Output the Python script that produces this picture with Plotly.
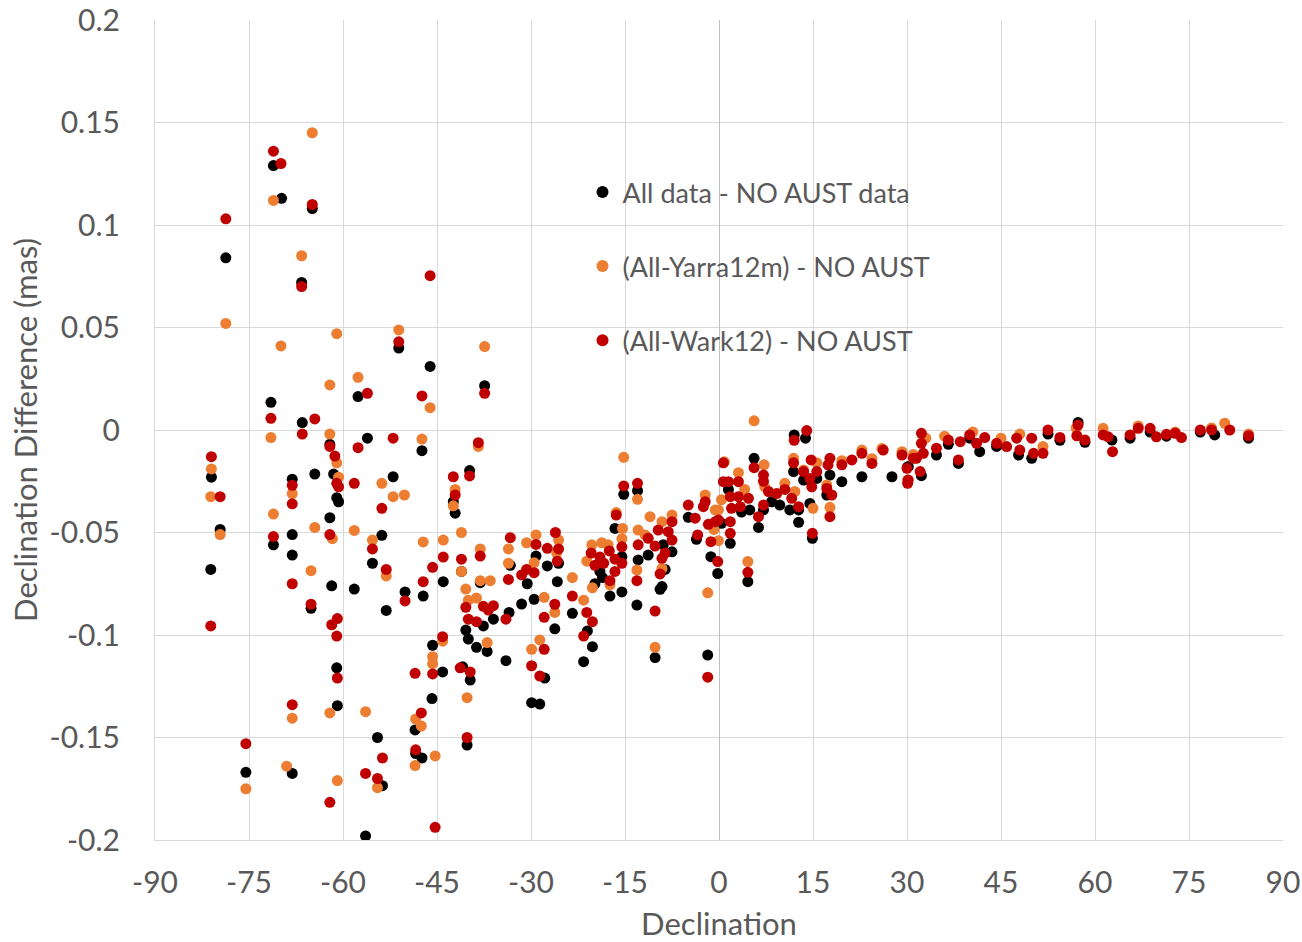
import plotly.graph_objects as go

# All data - NO AUST data (black)
all_dec = [-71.1, -69.8, -64.9, -78.7, -66.6, -71.5, -66.5, -62.1, -81.0, -68.1, -64.5, -61.5,
           -61.0, -60.7, -62.1, -79.6, -71.1, -68.1, -68.1, -81.1, -61.8, -65.1, -61.0, -60.9,
           -75.5, -68.1,
           -51.1, -46.1, -57.6, -37.4, -56.1, -47.4, -39.8, -52.0, -42.4, -42.1, -53.8,
           -55.3, -58.2, -53.1, -50.1, -47.2, -44.0, -41.1, -33.3, -38.1, -33.5, -37.6, -36.0,
           -40.4, -40.0, -38.7, -37.0, -34.0, -45.7, -44.1, -40.9, -39.7, -45.8, -48.5, -48.4,
           -47.4, -40.2, -54.5, -53.7, -56.4,
           -15.2, -13.0, -16.6, -15.5, -17.4, -15.5, -19.0, -18.6, -19.8, -23.4, -21.0, -20.2,
           -21.6, -29.2, -30.6, -31.5, -29.5, -27.4, -25.6, -25.8, -26.2, -27.8, -29.9, -28.6,
           -8.9, -7.5, -11.3, -12.9, -8.6, -9.1, -9.4, -13.1, -10.2, -4.9, -3.6, -1.3, -0.2, -1.8,
           12.0, 13.8, 5.6, 1.5, 3.6, 4.9, 0.4, 1.8, 4.6, 6.3, 7.1, 12.7, 12.7, 11.3, 9.7, 8.4,
           11.9, 13.5, 14.5, 14.9, 15.6, 17.2, 17.7, 19.6, 22.8, 27.6, 30.2,
           30.1, 32.3, 34.7, 38.2, 41.6, 47.8, 49.9, 57.3, 62.7, 79.1,
           44.3, 52.5, 54.4, 58.4, 65.6, 68.8, 71.4, 76.8, 84.5, 36.6, 40.0]
all_diff = [0.129, 0.113, 0.108, 0.084, 0.072, 0.0135, 0.0036, -0.007, -0.023, -0.024, -0.0215, -0.0215,
            -0.033, -0.035, -0.0428, -0.0485, -0.056, -0.051, -0.061, -0.068, -0.076, -0.087, -0.116, -0.1345,
            -0.167, -0.1675,
            0.040, 0.031, 0.0163, 0.0216, -0.004, -0.0101, -0.0198, -0.0228, -0.035, -0.0406, -0.0514,
            -0.065, -0.0776, -0.088, -0.079, -0.081, -0.074, -0.069, -0.066, -0.0745, -0.089, -0.0956, -0.0923,
            -0.0976, -0.102, -0.106, -0.108, -0.1125, -0.105, -0.118, -0.1155, -0.122, -0.131, -0.1463, -0.1578,
            -0.160, -0.1537, -0.150, -0.1735, -0.198,
            -0.0314, -0.0296, -0.048, -0.0618, -0.081, -0.079, -0.069, -0.072, -0.075, -0.0894, -0.098, -0.1057,
            -0.113, -0.0615, -0.075, -0.0849, -0.0826, -0.0663, -0.065, -0.074, -0.097, -0.121, -0.133, -0.1337,
            -0.056, -0.0594, -0.061, -0.0634, -0.068, -0.0764, -0.0777, -0.0854, -0.111, -0.0426, -0.0533, -0.0618, -0.070, -0.1098,
            -0.0024, -0.004, -0.0138, -0.029, -0.040, -0.039, -0.0455, -0.0553, -0.074, -0.0475, -0.039, -0.039, -0.045, -0.039, -0.0366, -0.035,
            -0.0203, -0.0244, -0.0358, -0.0528, -0.0236, -0.0317, -0.022, -0.0252, -0.0228, -0.0228, -0.0179,
            -0.018, -0.0223, -0.0122, -0.0163, -0.0106, -0.0122, -0.0138, 0.0037, -0.0049, -0.0024,
            -0.008, -0.002, -0.005, -0.006, -0.004, -0.001, -0.003, -0.001, -0.004, -0.007, -0.004]

# (All-Yarra12m) - NO AUST (orange)
yarra_dec = [-64.9, -71.1, -66.6, -78.7, -61.0, -69.9, -62.1, -71.5, -62.1, -81.0, -61.0, -60.7,
             -68.1, -81.1, -71.1, -64.5, -79.6, -61.7, -65.1, -62.1, -68.1, -75.5, -69.0, -60.9,
             -51.1, -37.4, -57.6, -46.1, -47.4, -38.4, -42.1, -42.4, -53.8, -52.0, -50.2, -58.2,
             -55.3, -47.2, -44.0, -41.1, -33.6, -38.1,
             -53.1, -41.1, -33.6, -38.1, -36.5, -40.4, -40.0, -38.7, -37.0, -44.1, -45.7, -45.7,
             -40.2, -48.4, -47.5, -48.5, -45.3, -56.4, -54.5,
             -15.2, -13.0, -16.4, -15.4, -15.5, -17.4, -20.3, -18.7, -17.7, -21.1, -20.2, -23.4,
             -21.6, -30.7, -29.2, -29.5, -25.6, -25.9, -27.9, -26.2, -28.6, -29.9, -11.0, -9.1,
             -7.5, -12.9, -11.8, -13.1, -9.1, -10.2, -2.2, -0.1, -0.8, 0.85, -1.8,
             5.6, 7.2, 3.1, 7.3, 0.4, -0.6, 4.1, -0.1, 4.6, 10.5, 12.1, 11.9, 13.5, 15.0, 17.2,
             17.7, 22.8, 26.0, 29.2, 30.1,
             51.7, 61.3, 80.7, 33.0, 36.0, 40.5, 45.0, 48.0, 57.0, 66.9, 72.8, 78.6, 84.5, 31.0,
             19.6, 24.4, 15.6]
yarra_diff = [0.145, 0.112, 0.085, 0.052, 0.047, 0.041, 0.022, -0.0037, -0.002, -0.019, -0.016, -0.023,
              -0.031, -0.0325, -0.041, -0.0475, -0.051, -0.053, -0.0686, -0.138, -0.1406, -0.175, -0.164, -0.171,
              0.0488, 0.0407, 0.0257, 0.0109, -0.0044, -0.008, -0.029, -0.037, -0.026, -0.0325, -0.0317, -0.049,
              -0.0537, -0.0546, -0.0537, -0.050, -0.058, -0.058,
              -0.0712, -0.069, -0.065, -0.0735, -0.0735, -0.0776, -0.083, -0.082, -0.1037, -0.103, -0.1106, -0.114,
              -0.1306, -0.141, -0.1444, -0.1637, -0.159, -0.1374, -0.1745,
              -0.0133, -0.0338, -0.0403, -0.048, -0.053, -0.0755, -0.056, -0.055, -0.056, -0.064, -0.077, -0.072,
              -0.083, -0.055, -0.0512, -0.0647, -0.0537, -0.060, -0.0816, -0.089, -0.1024, -0.107, -0.0423, -0.0447,
              -0.0415, -0.0488, -0.0512, -0.0683, -0.0675, -0.106, -0.0317, -0.039, -0.0485, -0.0155, -0.0794,
              0.0045, -0.017, -0.0208, -0.0277, -0.034, -0.039, -0.029, -0.054, -0.0642, -0.026, -0.030, -0.0138, -0.0195, -0.0382, -0.0268,
              -0.0377, -0.0098, -0.009, -0.0106, -0.0244,
              -0.0081, 0.0008, 0.0033, -0.004, -0.003, -0.001, -0.004, -0.002, 0.001, 0.002, -0.001, 0.001, -0.002, -0.012,
              -0.015, -0.014, -0.016]

# (All-Wark12) - NO AUST (red)
wark_dec = [-71.1, -69.9, -64.9, -78.7, -66.6, -71.5, -64.5, -66.5, -62.1, -61.3, -81.0, -68.1,
            -68.1, -61.0, -60.7, -79.6, -71.1, -62.1, -68.1, -65.1, -81.1, -61.8, -60.9, -61.0,
            -60.9, -68.1, -75.5, -62.1,
            -46.1, -51.1, -56.1, -47.4, -37.4, -57.6, -52.0, -38.4, -39.8, -42.4, -42.1, -58.2,
            -53.8, -55.3, -33.3, -44.0, -41.1, -38.1,
            -53.1, -50.1, -47.2, -45.7, -33.6, -40.4, -37.6, -36.0, -36.8, -40.0, -38.7, -34.0,
            -44.1, -45.7, -48.5, -41.3, -39.7, -47.5, -48.4, -40.2, -53.7, -56.4, -54.5, -45.3,
            -15.2, -13.0, -16.4, -15.5, -15.5, -16.6, -17.4, -20.4, -19.0, -17.5, -18.4, -19.8,
            -16.6, -23.4, -21.1, -20.2, -21.6, -29.2, -30.7, -31.5, -29.5, -27.4, -26.1, -25.6,
            -25.8, -27.9, -26.2, -27.9, -29.9, -28.6, -7.5, -9.7, -8.1, -11.3, -12.9, -10.2,
            -7.5, -8.6, -13.1, -9.1, -9.4, -10.2, -2.2, -4.9, -3.8, -3.4, -0.6, -1.7, 0.7, 0.7,
            -2.5, -1.3, -0.2, -1.8,
            14.0, 12.0, 5.6, 3.1, 1.5, 7.1, 7.1, 1.8, 3.1, 4.7, 2.0, 3.4, -0.1, 1.8, 1.8, 4.6,
            6.3, 7.1, 7.9, 9.2, 10.5, 11.6, 12.7, 11.9, 13.5, 14.7, 14.5, 14.8, 14.9, 15.6, 17.2,
            18.0, 17.7, 17.7, 17.4, 19.6, 21.2, 22.8, 24.4, 26.2, 29.2, 30.1, 31.0,
            32.3, 32.3, 32.6, 31.5, 30.0, 32.1, 30.2, 34.7, 36.6, 38.5, 40.0, 41.1, 42.4, 44.3,
            45.9, 47.5, 48.0, 49.9, 50.2, 51.7, 38.2, 52.5, 54.4, 57.3, 57.1, 58.4, 61.3, 62.1,
            62.8, 65.6, 66.9, 68.8, 69.8, 71.4, 72.8, 73.8, 76.8, 78.6, 81.5, 84.5]
wark_diff = [0.136, 0.130, 0.110, 0.103, 0.070, 0.0057, 0.0054, -0.002, -0.008, -0.0127, -0.013, -0.027,
             -0.036, -0.026, -0.0277, -0.0325, -0.052, -0.051, -0.075, -0.085, -0.0956, -0.095, -0.092, -0.1005,
             -0.121, -0.134, -0.153, -0.1816,
             0.0753, 0.043, 0.0179, 0.0166, 0.0179, -0.0086, -0.004, -0.0062, -0.0224, -0.0228, -0.0317, -0.026,
             -0.0382, -0.058, -0.0525, -0.062, -0.063, -0.0615,
             -0.068, -0.0834, -0.074, -0.067, -0.0729, -0.0865, -0.086, -0.0857, -0.0878, -0.0923, -0.0935, -0.0923,
             -0.1008, -0.119, -0.1187, -0.116, -0.118, -0.138, -0.156, -0.150, -0.160, -0.1675, -0.170, -0.1938,
             -0.0273, -0.026, -0.0415, -0.057, -0.065, -0.069, -0.0735, -0.060, -0.062, -0.059, -0.065, -0.066,
             -0.063, -0.081, -0.089, -0.0935, -0.1005, -0.0558, -0.068, -0.0707, -0.0696, -0.0577, -0.050, -0.058,
             -0.064, -0.0914, -0.085, -0.107, -0.115, -0.120, -0.0447, -0.0488, -0.0496, -0.0528, -0.056, -0.0566,
             -0.0537, -0.060, -0.0735, -0.0626, -0.0702, -0.0883, -0.035, -0.0366, -0.043, -0.0512, -0.0447, -0.046, -0.016, -0.0252,
             -0.0374, -0.0545, -0.0642, -0.1206,
             -0.0003, -0.005, -0.0184, -0.0252, -0.0252, -0.022, -0.025, -0.0325, -0.0325, -0.0333, -0.0382, -0.0374, -0.0439, -0.0447, -0.0504, -0.0694,
             -0.0423, -0.0366, -0.030, -0.031, -0.029, -0.0333, -0.0374, -0.016, -0.0203, -0.0146, -0.0236, -0.0277, -0.0504, -0.0203, -0.0285,
             -0.0317, -0.0423, -0.0138, -0.017, -0.017, -0.0146, -0.0114, -0.0163, -0.0098, -0.0122, -0.026, -0.0138,
             -0.0016, -0.0065, -0.0114, -0.0138, -0.0187, -0.0203, -0.0244, -0.0089, -0.0049, -0.0057, -0.0024, -0.0065, -0.0037, -0.0065,
             -0.0081, -0.004, -0.0098, -0.004, -0.0114, -0.0114, -0.0146, 0.0, -0.0036, 0.0024, -0.0028, -0.0049, -0.0024, -0.0033,
             -0.0106, -0.0024, 0.0008, 0.0008, -0.0033, -0.0021, -0.0016, -0.0037, 0.0, 0.0, 0.0, -0.0028]

x_ticks = list(range(-90, 91, 15))
x_labels = [str(v) for v in x_ticks]
y_ticks = [0.2, 0.15, 0.1, 0.05, 0, -0.05, -0.1, -0.15, -0.2]
y_labels = ["0.2", "0.15", "0.1", "0.05", "0", "-0.05", "-0.1", "-0.15", "-0.2"]

font = "Lato, 'Open Sans', sans-serif"
grey = "#595959"

fig = go.Figure()
fig.add_trace(go.Scatter(x=all_dec, y=all_diff, mode="markers", name="All data - NO AUST data",
                         legendgroup="a", marker=dict(color="#000000", size=11)))
fig.add_trace(go.Scatter(x=yarra_dec, y=yarra_diff, mode="markers", name="(All-Yarra12m) - NO AUST",
                         legendgroup="b", marker=dict(color="#ED7D31", size=11)))
fig.add_trace(go.Scatter(x=wark_dec, y=wark_diff, mode="markers", name="(All-Wark12) - NO AUST",
                         legendgroup="c", marker=dict(color="#C00000", size=11)))

fig.update_layout(
    width=1302, height=942,
    margin=dict(l=155, r=19, t=20, b=102),
    plot_bgcolor="white", paper_bgcolor="white",
    font=dict(family=font, color=grey),
    legend=dict(x=0.379, y=0.8196, xanchor="left", yanchor="top",
                bgcolor="rgba(0,0,0,0)", font=dict(size=27, color=grey),
                traceorder="grouped", tracegroupgap=36, itemsizing="constant"),
    xaxis=dict(range=[-90, 90], tickvals=x_ticks, ticktext=x_labels, showgrid=True, gridcolor="#d9d9d9",
               zeroline=True, zerolinecolor="#bfbfbf", zerolinewidth=1, automargin=False,
               showline=True, linecolor="#d9d9d9", mirror=False, ticks="", ticklabelstandoff=16,
               ticklabeloverflow="allow", tickfont=dict(size=30, color=grey),
               title=dict(text="Declination", font=dict(size=31, color=grey), standoff=16)),
    yaxis=dict(range=[-0.2, 0.2], tickvals=y_ticks, ticktext=y_labels, showgrid=True,
               gridcolor="#d9d9d9", zeroline=False, showline=True, linecolor="#d9d9d9",
               automargin=False, ticks="", ticklabelstandoff=28, ticklabeloverflow="allow",
               tickfont=dict(size=30, color=grey),
               title=dict(text="Declination Difference (mas)", font=dict(size=31, color=grey), standoff=2)),
)

# drop the browser's default 8px body margin so the figure fills the window exactly
fig.write_html("out.html", config={"displayModeBar": False},
               post_script="document.body.style.margin = '0';")
